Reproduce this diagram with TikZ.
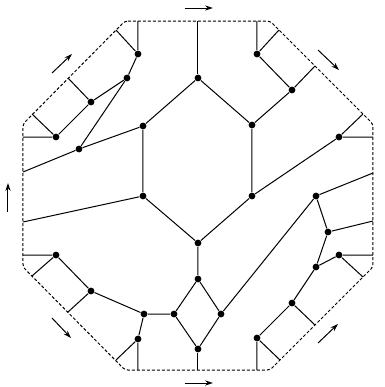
\documentclass[tikz,border=0pt]{standalone}
\usetikzlibrary{arrows.meta}
\begin{document}
\begin{tikzpicture}[x=0.5pt, y=-0.5pt, >={Stealth[length=4pt,width=2.6pt]},
    dot/.style={circle, fill=black, inner sep=0pt, minimum size=3.4pt},
    wire/.style={line width=0.5pt},
    rim/.style={line width=0.5pt, dash pattern=on 1.5pt off 1pt, rounded corners=1.5pt},
    flow/.style={line width=0.5pt, ->}]
    \useasboundingbox (0,0) rectangle (385,387);
    % dashed octagon
    \draw [rim] (125,21) -- (270,21) -- (373,124) -- (373,267) -- (270,370) -- (125,370) -- (23,267) -- (23,124) -- cycle;
    % free ends on the rim
    \coordinate (n1) at (138,21);  \coordinate (n2) at (198,21);  \coordinate (n3) at (257,21);
    \coordinate (ne1) at (279,30); \coordinate (ne2) at (315,66); \coordinate (ne3) at (363,114);
    \coordinate (e1) at (373,137); \coordinate (e2) at (373,173); \coordinate (e3) at (373,221); \coordinate (e4) at (373,255);
    \coordinate (se1) at (363,277); \coordinate (se2) at (315,325); \coordinate (se3) at (280,360);
    \coordinate (s1) at (138,370); \coordinate (s2) at (198,370); \coordinate (s3) at (257,370);
    \coordinate (sw1) at (116,360); \coordinate (sw2) at (68,312); \coordinate (sw3) at (32,276);
    \coordinate (w1) at (23,137);  \coordinate (w2) at (23,172);  \coordinate (w3) at (23,222); \coordinate (w4) at (23,255);
    \coordinate (nw1) at (32,114); \coordinate (nw2) at (68,78);  \coordinate (nw3) at (116,30);
    % vertices
    \node (a1) [dot] at (138,54) {};
    \node (a2) [dot] at (127,78) {};
    \node (a3) [dot] at (91,102) {};
    \node (a4) [dot] at (56,137) {};
    \node (a5) [dot] at (79,149) {};
    \node (b1) [dot] at (143,126) {};
    \node (b2) [dot] at (198,78) {};
    \node (b3) [dot] at (252,125) {};
    \node (b4) [dot] at (252,196) {};
    \node (b5) [dot] at (143,196) {};
    \node (c1) [dot] at (257,54) {};
    \node (c2) [dot] at (292,90) {};
    \node (d1) [dot] at (339,137) {};
    \node (m1) [dot] at (198,243) {};
    \node (m2) [dot] at (198,279) {};
    \node (m3) [dot] at (198,349) {};
    \node (m4) [dot] at (174,314) {};
    \node (m5) [dot] at (221,314) {};
    \node (f1) [dot] at (316,196) {};
    \node (f2) [dot] at (328,232) {};
    \node (f3) [dot] at (316,267) {};
    \node (f4) [dot] at (339,255) {};
    \node (f5) [dot] at (292,303) {};
    \node (f6) [dot] at (257,338) {};
    \node (g1) [dot] at (56,255) {};
    \node (g2) [dot] at (91,291) {};
    \node (g3) [dot] at (144,314) {};
    \node (g5) [dot] at (138,339) {};
    % upper left
    \draw [wire] (n1) -- (a1) -- (a2) -- (a3) -- (a4) -- (w1);
    \draw [wire] (nw3) -- (a1);
    \draw [wire] (nw2) -- (a3);
    \draw [wire] (nw1) -- (a4);
    \draw [wire] (a2) -- (a5) -- (w2);
    \draw [wire] (a5) -- (b1);
    % central hexagon
    \draw [wire] (b1) -- (b2) -- (b3) -- (b4) -- (m1) -- (b5) -- (b1);
    \draw [wire] (n2) -- (b2);
    \draw [wire] (w3) -- (b5);
    % upper right
    \draw [wire] (b3) -- (c2) -- (c1) -- (n3);
    \draw [wire] (c2) -- (ne2);
    \draw [wire] (c1) -- (ne1);
    \draw [wire] (b4) -- (d1) -- (e1);
    \draw [wire] (d1) -- (ne3);
    % lower middle diamond
    \draw [wire] (m1) -- (m2) -- (m4) -- (m3) -- (m5) -- (m2);
    \draw [wire] (m3) -- (s2);
    \draw [wire] (m5) -- (f1) -- (e2);
    % lower right
    \draw [wire] (f1) -- (f2) -- (e3);
    \draw [wire] (f2) -- (f3) -- (f4) -- (e4);
    \draw [wire] (f4) -- (se1);
    \draw [wire] (f3) -- (f5) -- (f6) -- (s3);
    \draw [wire] (f5) -- (se2);
    \draw [wire] (f6) -- (se3);
    % lower left
    \draw [wire] (w4) -- (g1) -- (g2) -- (g3) -- (m4);
    \draw [wire] (g1) -- (sw3);
    \draw [wire] (g2) -- (sw2);
    \draw [wire] (g3) -- (g5) -- (s1);
    \draw [wire] (g5) -- (sw1);
    % direction arrows
    \draw [flow] (185,8) -- (213,8);
    \draw [flow] (318,50) -- (339,70);
    \draw [flow] (52,73) -- (72,54);
    \draw [flow] (8,212) -- (8,183);
    \draw [flow] (52,318) -- (71,338);
    \draw [flow] (185,383) -- (213,383);
    \draw [flow] (318,343) -- (338,324);
\end{tikzpicture}
\end{document}
